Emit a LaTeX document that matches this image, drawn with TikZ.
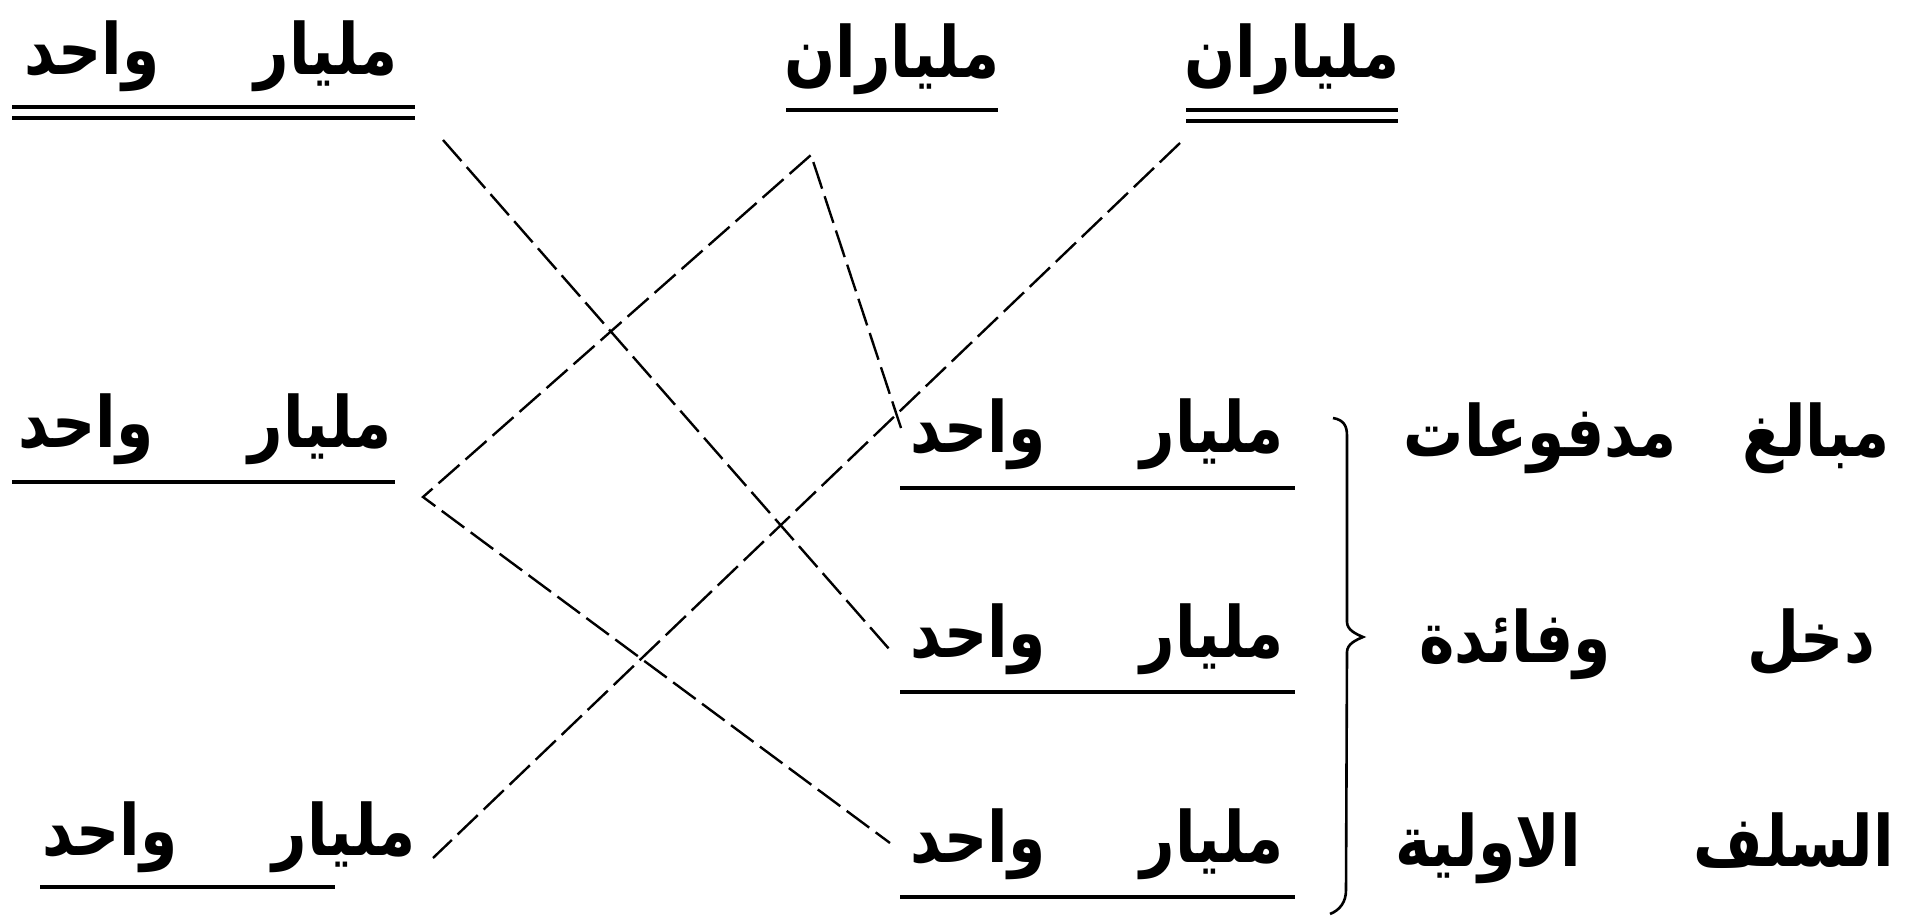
\documentclass[tikz,border=0pt]{standalone}
\usepackage{fontspec}
\newfontfamily\arabicfont[Script=Arabic]{DejaVu Sans}
\TeXXeTstate=1
\newcommand\artxt[1]{\scalebox{1}[1.18]{\beginR #1\endR}}
\begin{document}
\begin{tikzpicture}[x=1pt,y=-1pt,
  lbl/.style={font=\arabicfont\bfseries\fontsize{60}{70}\selectfont, inner sep=0pt, anchor=base},
  uline/.style={line width=3.5pt},
  conn/.style={line width=2.4pt, dash pattern=on 28pt off 8pt},
  brace/.style={line width=2.6pt}]
\useasboundingbox (0,0) rectangle (1905,917);
% left labels
\node[lbl] (tl) at (211,75) {\artxt{مليار\hspace{95pt}واحد}};
\node[lbl] (ml) at (205,447) {\artxt{مليار\hspace{95pt}واحد}};
\node[lbl] (bl) at (229,855) {\artxt{مليار\hspace{95pt}واحد}};
% top labels
\node[lbl] (tm) at (892,78) {\artxt{ملياران}};
\node[lbl] (tr) at (1292,78) {\artxt{ملياران}};
% right labels
\node[lbl] (r1) at (1097,452) {\artxt{مليار\hspace{95pt}واحد}};
\node[lbl] (r2) at (1097,657) {\artxt{مليار\hspace{95pt}واحد}};
\node[lbl] (r3) at (1097,862) {\artxt{مليار\hspace{95pt}واحد}};
% right texts
\node[lbl] (a1) at (1816,456) {\artxt{مبالغ}};
\node[lbl] (b1) at (1540,456) {\artxt{مدفوعات}};
\node[lbl] (a2) at (1811,662) {\artxt{دخل}};
\node[lbl] (b2) at (1515,662) {\artxt{وفائدة}};
\node[lbl] (a3) at (1794,866) {\artxt{السلف}};
\node[lbl] (b3) at (1488,866) {\artxt{الاولية}};
% underlines
\draw[uline] (12,107) -- (415,107);
\draw[uline] (12,118) -- (415,118);
\draw[uline] (786,110) -- (998,110);
\draw[uline] (1186,110) -- (1398,110);
\draw[uline] (1186,121) -- (1398,121);
\draw[uline] (12,482) -- (395,482);
\draw[uline] (40,887) -- (335,887);
\draw[uline] (900,488) -- (1295,488);
\draw[uline] (900,692) -- (1295,692);
\draw[uline] (900,897) -- (1295,897);
% brace
\draw[brace] (1333,418) .. controls (1344,420) and (1347,426) .. (1347,436)
  -- (1347,622) .. controls (1347,630) and (1356,634) .. (1363,637)
  .. controls (1356,640) and (1347,644) .. (1347,652)
  -- (1346,890) .. controls (1346,902) and (1340,910) .. (1330,914);
% connector end points
\coordinate (tlE) at (443,140);
\coordinate (apex) at (811,155);
\coordinate (trE) at (1180,143);
\coordinate (vtx) at (423,497);
\coordinate (blE) at (433,858);
\coordinate (r1E) at (901,428);
\coordinate (r2E) at (890,650);
\coordinate (r3E) at (890,843);
\draw[conn] (tlE) -- (r2E);
\draw[conn] (r1E) -- (apex) -- (vtx) -- (r3E);
\draw[conn] (trE) -- (blE);
\end{tikzpicture}
\end{document}
